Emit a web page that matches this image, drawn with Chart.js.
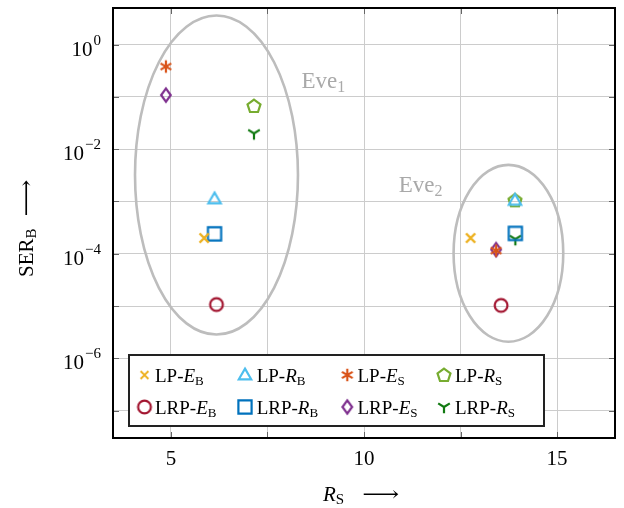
<!DOCTYPE html>
<html>
<head>
<meta charset="utf-8">
<script src="https://cdn.jsdelivr.net/npm/chart.js@4.4.1/dist/chart.umd.min.js"></script>
<style>
  html, body { margin: 0; padding: 0; background: #fff; }
  #wrap { width: 624px; height: 508px; }
</style>
</head>
<body>
<div id="wrap"><canvas id="serChart" width="624" height="508"></canvas></div>
<script>
// Series (legend order): prefix, symbol, subscript
const seriesPrefix = ['LP-', 'LP-', 'LP-', 'LP-', 'LRP-', 'LRP-', 'LRP-', 'LRP-'];
const seriesSymbol = ['E', 'R', 'E', 'R', 'E', 'R', 'E', 'R'];
const seriesSub = ['B', 'B', 'S', 'S', 'B', 'B', 'S', 'S'];

// Values: R_S and SER_B for Eve1 and Eve2
const rsEve1 = [5.86, 6.13, 4.87, 7.15, 6.18, 6.13, 4.87, 7.15];
const serEve1 = [2.0e-4, 1.12e-3, 0.38, 0.067, 1.07e-5, 2.4e-4, 0.108, 0.02];
const rsEve2 = [12.76, 13.91, 13.42, 13.91, 13.55, 13.92, 13.42, 13.92];
const serEve2 = [2.0e-4, 1.05e-3, 1.15e-4, 1.05e-3, 1.03e-5, 2.45e-4, 1.2e-4, 1.9e-4];

// Axis ticks
const xTicks = [5, 7.5, 10, 12.5, 15];
const xTickLabels = ['5', '', '10', '', '15'];
const yTicks = [1e-7, 1e-6, 1e-5, 1e-4, 1e-3, 1e-2, 1e-1, 1];
const yLabelExps = [0, -2, -4, -6];

// Eve groups: ellipse centre / half axes (x units, decades) and label anchor
const eveNames = ['1', '2'];
const eveCx = [6.18, 13.74];
const eveCy = [3.2e-3, 1.02e-4];
const eveRx = [2.11, 1.42];
const eveRyDec = [3.05, 1.69];
const eveLabelX = [8.38, 10.9];
const eveLabelY = [0.148, 1.5e-3];

const colors = ['#EDB120', '#4DBEEE', '#D95319', '#77AC30', '#A2142F', '#0072BD', '#7E2F8E', '#127a12'];
const shapes = ['x', 'triangle', 'asterisk', 'pentagon', 'circle', 'square', 'diamond', 'y'];

const SERIF = "'Liberation Serif', 'DejaVu Serif', serif";

// marker glyphs drawn on small canvases
function makeMarker(shape, color) {
    const c = document.createElement('canvas');
    c.width = 20; c.height = 20;
    const g = c.getContext('2d');
    g.strokeStyle = color;
    g.lineWidth = 2.2;
    g.translate(10, 10);
    g.beginPath();
    if (shape === 'x') {
        g.moveTo(-4.6, -4.6); g.lineTo(4.6, 4.6);
        g.moveTo(-4.6, 4.6); g.lineTo(4.6, -4.6);
    } else if (shape === 'triangle') {
        g.moveTo(0, -6.4); g.lineTo(6.2, 4.3); g.lineTo(-6.2, 4.3); g.closePath();
    } else if (shape === 'asterisk') {
        for (let k = 0; k < 3; k++) {
            const a = Math.PI / 2 + k * Math.PI / 3;
            g.moveTo(Math.cos(a) * 6.2, Math.sin(a) * 6.2);
            g.lineTo(-Math.cos(a) * 6.2, -Math.sin(a) * 6.2);
        }
    } else if (shape === 'pentagon') {
        for (let k = 0; k < 5; k++) {
            const a = -Math.PI / 2 + k * 2 * Math.PI / 5;
            const px = Math.cos(a) * 6.8, py = Math.sin(a) * 6.8 + 0.5;
            if (k === 0) g.moveTo(px, py); else g.lineTo(px, py);
        }
        g.closePath();
    } else if (shape === 'circle') {
        g.arc(0, 0, 6.4, 0, Math.PI * 2);
    } else if (shape === 'square') {
        g.rect(-6.6, -6.6, 13.2, 13.2);
    } else if (shape === 'diamond') {
        g.moveTo(0, -6.6); g.lineTo(4.8, 0); g.lineTo(0, 6.6); g.lineTo(-4.8, 0); g.closePath();
    } else if (shape === 'y') {
        g.moveTo(0, 0); g.lineTo(0, 6.2);
        g.moveTo(0, 0); g.lineTo(-5.8, -3.6);
        g.moveTo(0, 0); g.lineTo(5.8, -3.6);
    }
    g.stroke();
    return c;
}

const markers = shapes.map((s, i) => makeMarker(s, colors[i]));

const datasets = seriesPrefix.map((p, i) => ({
    label: p + seriesSymbol[i] + seriesSub[i],
    data: [{ x: rsEve1[i], y: serEve1[i] }, { x: rsEve2[i], y: serEve2[i] }],
    pointStyle: markers[i],
    pointRadius: 7,
    borderColor: colors[i],
    backgroundColor: colors[i],
    showLine: false
}));

// draw a run of text pieces, return end x
function drawParts(ctx, parts, x, y) {
    for (const p of parts) {
        ctx.font = p.font;
        const w = ctx.measureText(p.t).width;
        if (p.width) {
            // stretch (used for the long arrow)
            ctx.save();
            ctx.translate(x, y + (p.dy || 0));
            ctx.scale(p.width / w, 1);
            ctx.fillText(p.t, 0, 0);
            ctx.restore();
            x += p.width + (p.gap || 0);
        } else {
            ctx.fillText(p.t, x, y + (p.dy || 0));
            x += w + (p.gap || 0);
        }
    }
    return x;
}

const decor = {
    id: 'decor',
    beforeDatasetsDraw(chart) {
        const { ctx, scales: { x, y } } = chart;
        ctx.save();
        for (let i = 0; i < eveCx.length; i++) {
            const cx = x.getPixelForValue(eveCx[i]);
            const cy = y.getPixelForValue(eveCy[i]);
            const rx = x.getPixelForValue(eveCx[i] + eveRx[i]) - cx;
            const ry = y.getPixelForValue(eveCy[i] / Math.pow(10, eveRyDec[i])) - cy;
            ctx.beginPath();
            ctx.ellipse(cx, cy, rx, ry, 0, 0, Math.PI * 2);
            ctx.strokeStyle = '#bdbdbd';
            ctx.lineWidth = 2.6;
            ctx.stroke();
            ctx.fillStyle = '#a9a9a9';
            ctx.textBaseline = 'alphabetic';
            ctx.textAlign = 'left';
            drawParts(ctx, [
                { t: 'Eve', font: '23px ' + SERIF },
                { t: eveNames[i], font: '16px ' + SERIF, dy: 4 }
            ], x.getPixelForValue(eveLabelX[i]), y.getPixelForValue(eveLabelY[i]));
        }
        ctx.restore();
    },
    afterDatasetsDraw(chart) {
        const { ctx, chartArea: a, scales: { x, y } } = chart;
        ctx.save();
        // tick marks inside, all four sides
        ctx.strokeStyle = '#666';
        ctx.lineWidth = 1;
        ctx.beginPath();
        yTicks.forEach(v => {
            const py = Math.round(y.getPixelForValue(v)) + 0.5;
            ctx.moveTo(a.left, py); ctx.lineTo(a.left + 6, py);
            ctx.moveTo(a.right, py); ctx.lineTo(a.right - 6, py);
        });
        xTicks.forEach(v => {
            const px = Math.round(x.getPixelForValue(v)) + 0.5;
            ctx.moveTo(px, a.bottom); ctx.lineTo(px, a.bottom - 6);
            ctx.moveTo(px, a.top); ctx.lineTo(px, a.top + 6);
        });
        ctx.stroke();

        // legend box
        const lx = 129, ly = 355, lw = 415, lh = 71;
        ctx.fillStyle = '#fff';
        ctx.fillRect(lx, ly, lw, lh);
        ctx.strokeStyle = '#222';
        ctx.lineWidth = 2;
        ctx.strokeRect(lx, ly, lw, lh);
        const markX = [144.5, 245, 347.3, 444];
        const textX = [155, 256.7, 357.5, 455];
        const rowY = [375, 407];
        ctx.fillStyle = '#000';
        ctx.textAlign = 'left';
        ctx.textBaseline = 'alphabetic';
        for (let i = 0; i < seriesPrefix.length; i++) {
            const col = i % 4, row = Math.floor(i / 4);
            const m = markers[i];
            const s = shapes[i] === 'x' ? 0.85 : 1;
            ctx.drawImage(m, markX[col] - m.width * s / 2, rowY[row] - m.height * s / 2, m.width * s, m.height * s);
            drawParts(ctx, [
                { t: seriesPrefix[i], font: '19px ' + SERIF },
                { t: seriesSymbol[i], font: 'italic 19px ' + SERIF },
                { t: seriesSub[i], font: '13px ' + SERIF, dy: 3 }
            ], textX[col], rowY[row] + 7);
        }

        // frame
        ctx.strokeStyle = '#000';
        ctx.lineWidth = 2;
        ctx.strokeRect(a.left, a.top, a.right - a.left, a.bottom - a.top);
        ctx.restore();
    },
    afterDraw(chart) {
        const { ctx, scales: { y } } = chart;
        ctx.save();
        ctx.fillStyle = '#000';
        ctx.textBaseline = 'alphabetic';
        ctx.textAlign = 'left';
        // y tick labels 10^n
        yLabelExps.forEach(e => {
            const py = y.getPixelForValue(Math.pow(10, e));
            const sup = e < 0 ? '\u2212' + (-e) : String(e);
            ctx.font = '15px ' + SERIF;
            const sw = ctx.measureText(sup).width;
            ctx.font = '21px ' + SERIF;
            const bw = ctx.measureText('10').width;
            const right = 101;
            ctx.fillText('10', right - sw - bw - 1, py + 11);
            ctx.font = '15px ' + SERIF;
            ctx.fillText(sup, right - sw, py);
        });
        // x axis title
        drawParts(ctx, [
            { t: 'R', font: 'italic 21px ' + SERIF },
            { t: 'S', font: '15px ' + SERIF, dy: 3, gap: 18 },
            { t: '\u27F6', font: '21px ' + SERIF, width: 37 }
        ], 323, 501);
        // y axis title (rotated)
        ctx.translate(33, 277);
        ctx.rotate(-Math.PI / 2);
        drawParts(ctx, [
            { t: 'SER', font: '21px ' + SERIF },
            { t: 'B', font: '15px ' + SERIF, dy: 3, gap: 12 },
            { t: '\u27F6', font: '21px ' + SERIF, width: 37 }
        ], 0, 0);
        ctx.restore();
    }
};

new Chart(document.getElementById('serChart').getContext('2d'), {
    type: 'scatter',
    data: { datasets: datasets },
    options: {
        responsive: false,
        animation: false,
        layout: { padding: { top: 6, right: 9, left: 0, bottom: 0 } },
        plugins: {
            legend: { display: false },
            tooltip: { enabled: false }
        },
        scales: {
            x: {
                type: 'linear',
                min: 3.5,
                max: 16.5,
                afterBuildTicks: s => { s.ticks = xTicks.map(v => ({ value: v })); },
                afterFit: s => { s.height = 70; },
                grid: { color: '#cccccc', drawTicks: false },
                border: { display: false },
                ticks: {
                    autoSkip: false,
                    maxRotation: 0,
                    padding: 9,
                    color: '#000',
                    font: { family: SERIF, size: 21 },
                    callback: (v) => xTickLabels[xTicks.indexOf(v)] || ''
                }
            },
            y: {
                type: 'logarithmic',
                min: Math.pow(10, -7.5),
                max: 5,
                afterBuildTicks: s => { s.ticks = yTicks.map(v => ({ value: v })); },
                afterFit: s => { s.width = 113; },
                grid: { color: '#cccccc', drawTicks: false },
                border: { display: false },
                ticks: { display: false }
            }
        }
    },
    plugins: [decor]
});
</script>
</body>
</html>
